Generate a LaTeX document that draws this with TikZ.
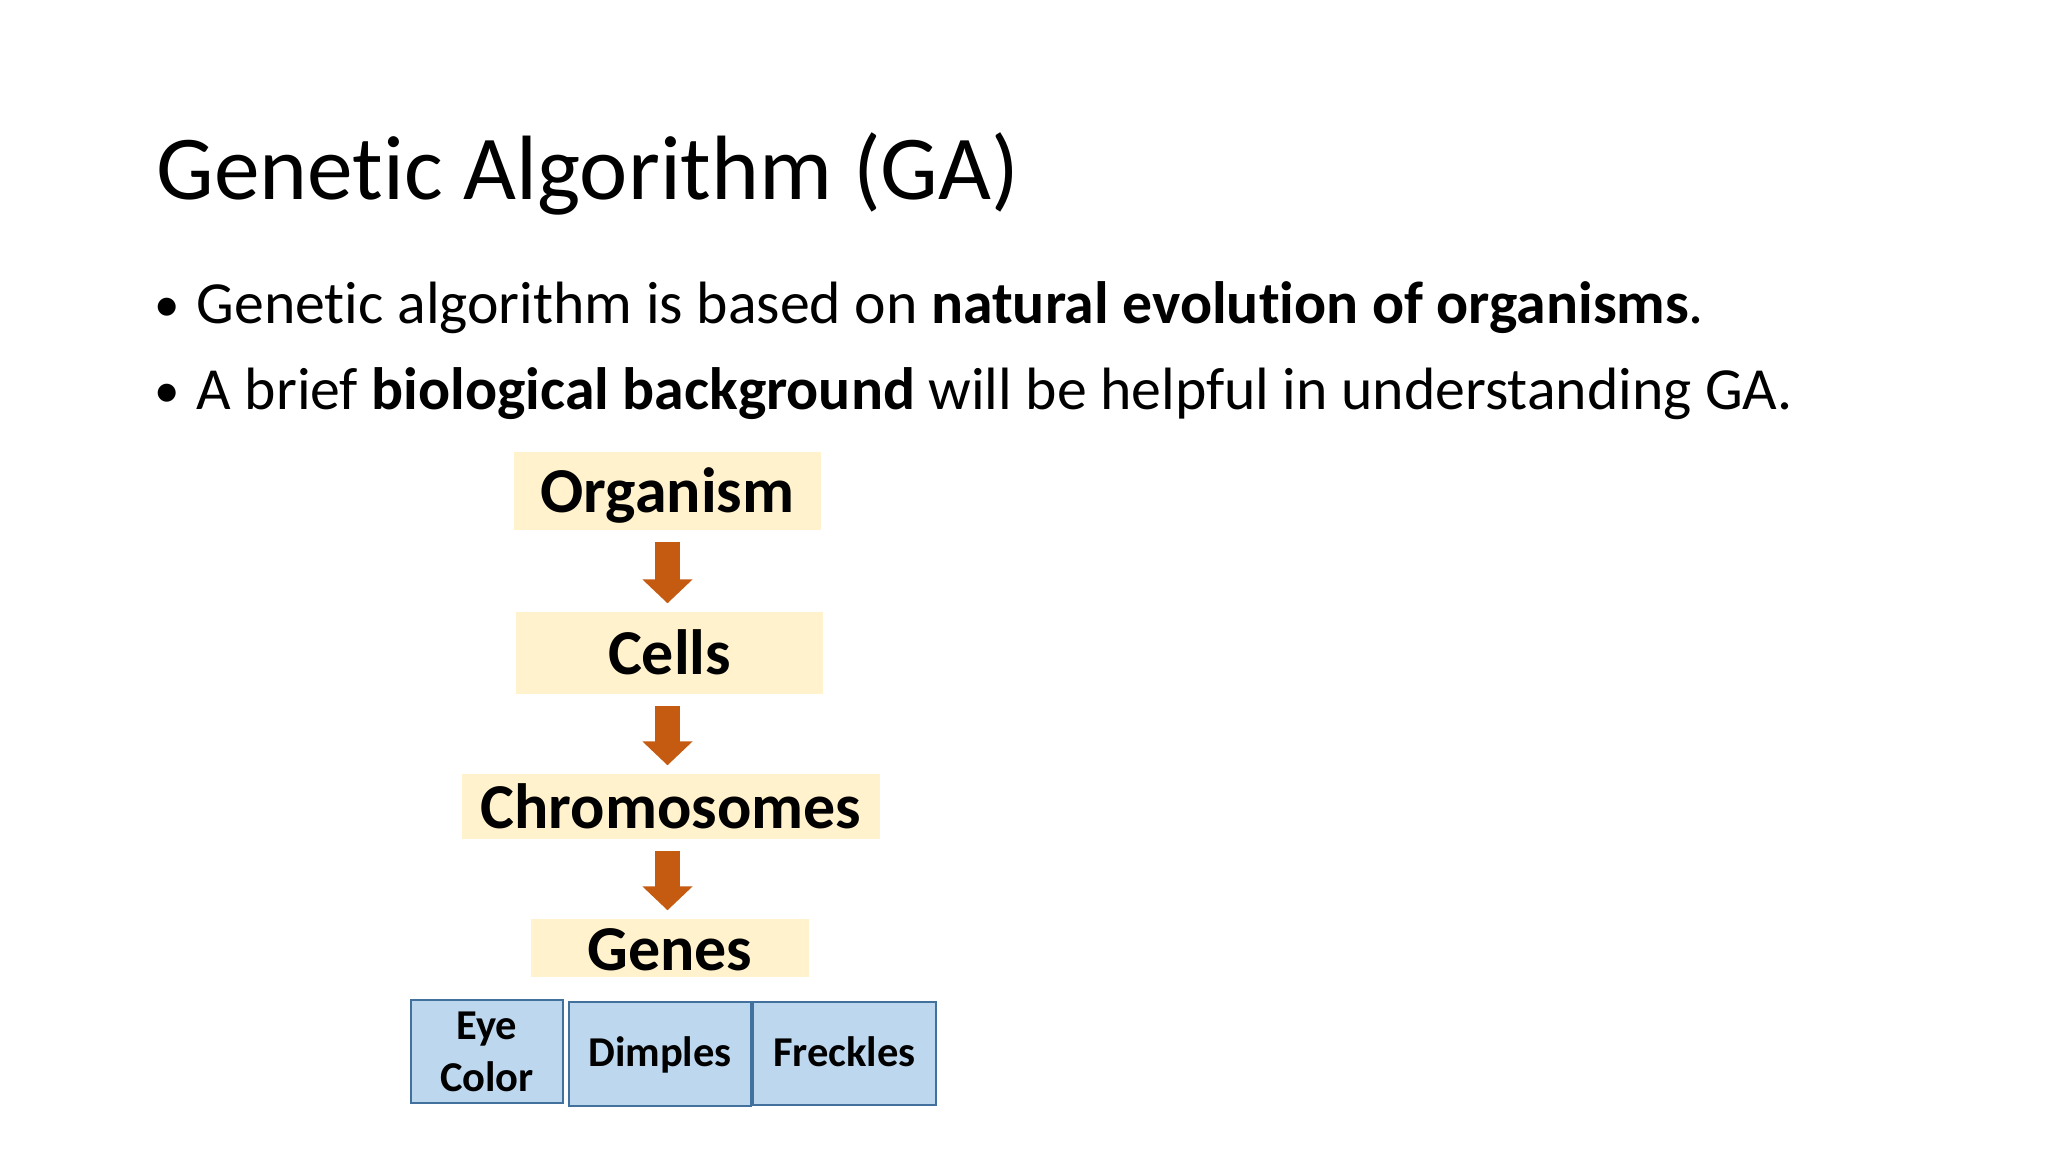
\documentclass[tikz,border=0pt]{standalone}
\usepackage{fontspec}
\setmainfont{Carlito}[Ligatures=NoCommon]
\usetikzlibrary{arrows.meta}
\definecolor{cream}{HTML}{FFF2CC}
\definecolor{garrowc}{HTML}{C55A11}
\definecolor{lblue}{HTML}{BDD7EE}
\definecolor{dblue}{HTML}{41719C}
\tikzset{
  titletext/.style={anchor=base west, inner sep=0pt, font=\fontsize{26.0pt}{32pt}\selectfont},
  bullettext/.style={anchor=base west, inner sep=0pt, font=\fontsize{17.0pt}{21pt}\selectfont},
  bulletdot/.style={anchor=base, inner sep=0pt, font=\fontsize{14.5pt}{18pt}\selectfont},
  levelbox/.style={fill=cream, draw=none, inner sep=0pt, text height=0.44cm, text depth=0pt,
    font=\fontsize{18.2pt}{22pt}\selectfont\bfseries},
  genebox/.style={fill=lblue, draw=dblue, line width=0.8pt, inner sep=0pt, align=center,
    font=\fontsize{12.1pt}{14.8pt}\selectfont\bfseries},
  garrow/.style={draw=garrowc, line width=0.25cm, -{Triangle[width=0.49cm,length=0.24cm]},
    shorten <=0.11cm, shorten >=0.08cm}
}
\begin{document}
\begin{tikzpicture}
\useasboundingbox (0,0) rectangle (20.48,-11.52);
\fill[white] (0,0) rectangle (20.48,-11.52);
\node[titletext] (title) at (1.56,-2.00) {Genetic Algorithm (GA)};
\node[bulletdot] (b1) at (1.67,-3.22) {•};
\node[bullettext] (t1) at (1.96,-3.24) {Genetic algorithm is based on \textbf{natural evolution of organisms}.};
\node[bulletdot] (b2) at (1.67,-4.08) {•};
\node[bullettext] (t2) at (1.96,-4.10) {A brief \textbf{biological background} will be helpful in understanding GA.};

\node[levelbox, minimum width=3.07cm, minimum height=0.78cm] (org) at (6.675,-4.91) {Organism};
\node[levelbox, minimum width=3.07cm, minimum height=0.82cm] (cells) at (6.695,-6.53) {Cells};
\node[levelbox, minimum width=4.18cm, minimum height=0.65cm] (chrom) at (6.71,-8.065) {Chromosomes};
\node[levelbox, minimum width=2.78cm, minimum height=0.58cm] (genes) at (6.70,-9.48) {Genes};

\draw[garrow] (org.south) -- (org.south |- cells.north);
\draw[garrow] (org.south |- cells.south) -- (org.south |- chrom.north);
\draw[garrow] (org.south |- chrom.south) -- (org.south |- genes.north);

\node[genebox, minimum width=1.52cm, minimum height=1.03cm] (eye) at (4.87,-10.515) {Eye\\Color};
\node[genebox, minimum width=1.82cm, minimum height=1.04cm, text height=0.25cm, text depth=0pt] (dimp) at (6.60,-10.54) {Dimples};
\node[genebox, minimum width=1.83cm, minimum height=1.03cm, text height=0.25cm, text depth=0pt] (freck) at (8.445,-10.535) {Freckles};
\end{tikzpicture}
\end{document}
